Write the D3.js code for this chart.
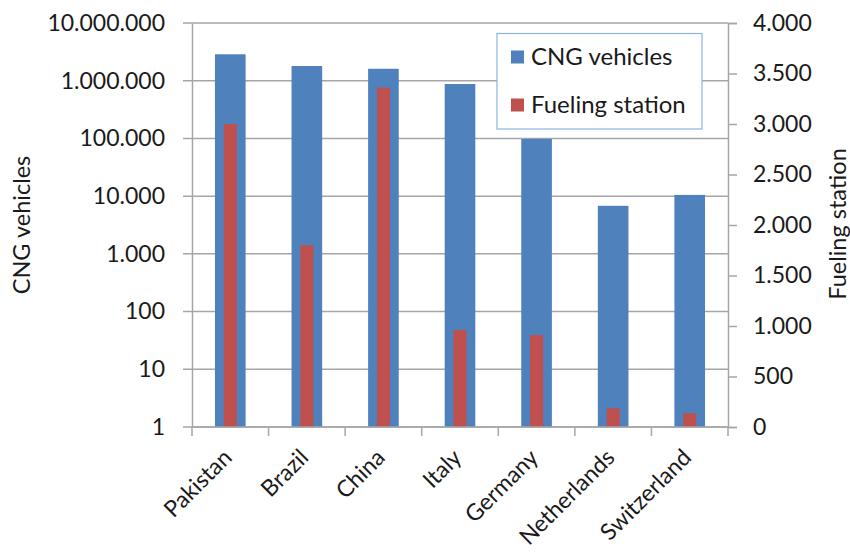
<!DOCTYPE html>
<html>
<head>
    <script src="https://d3js.org/d3.v7.min.js"></script>
    <style>
      body { margin: 0; background-color: white; }
      text { font-family: Lato, "Liberation Sans", sans-serif; fill: #1a1a1a; }
    </style>
</head>
<body>
<div id="my_dataviz"></div>
<script>

// data
var countries = ["Pakistan", "Brazil", "China", "Italy", "Germany", "Netherlands", "Switzerland"]
var cngVehicles = [2870000, 1800000, 1610000, 876000, 98000, 6800, 10500]
var fuelingStations = [3000, 1800, 3360, 960, 910, 185, 136]
var leftTicks = [1, 10, 100, 1000, 10000, 100000, 1000000, 10000000]
var rightTicks = [0, 500, 1000, 1500, 2000, 2500, 3000, 3500, 4000]
var seriesNames = ["CNG vehicles", "Fueling station"]

var W = 850, H = 559
var plot = {left: 192, right: 728, top: 23, bottom: 427}

var blue = "#4f81bd", red = "#c0504d", grid = "#a6a6a6"

// dots as thousands separator
var locale = d3.formatLocale({decimal: ",", thousands: ".", grouping: [3], currency: ["", ""]})
var fmt = locale.format(",d")

var svg = d3.select("#my_dataviz")
  .append("svg")
    .attr("width", W)
    .attr("height", H)

var x = d3.scaleBand()
    .domain(countries)
    .range([plot.left, plot.right])

var yLeft = d3.scaleLog()
    .domain([1, 10000000])
    .range([plot.bottom, plot.top])

var yRight = d3.scaleLinear()
    .domain([0, 4000])
    .range([plot.bottom, plot.top])

// horizontal gridlines (left scale)
svg.append("g")
  .selectAll("line")
  .data(leftTicks)
  .enter().append("line")
    .attr("x1", plot.left - 9)
    .attr("x2", plot.right)
    .attr("y1", function(d) { return yLeft(d) })
    .attr("y2", function(d) { return yLeft(d) })
    .attr("stroke", grid)
    .attr("stroke-width", 1.5)

// CNG vehicles bars
var bw = x.bandwidth()
svg.append("g")
  .selectAll("rect")
  .data(countries)
  .enter().append("rect")
    .attr("x", function(d) { return x(d) + bw / 2 - bw * 0.2 })
    .attr("width", bw * 0.4)
    .attr("y", function(d, i) { return yLeft(cngVehicles[i]) })
    .attr("height", function(d, i) { return yLeft(1) - yLeft(cngVehicles[i]) })
    .attr("fill", blue)

// fueling station bars
svg.append("g")
  .selectAll("rect")
  .data(countries)
  .enter().append("rect")
    .attr("x", function(d) { return x(d) + bw / 2 - bw * 0.085 })
    .attr("width", bw * 0.17)
    .attr("y", function(d, i) { return yRight(fuelingStations[i]) })
    .attr("height", function(d, i) { return yRight(0) - yRight(fuelingStations[i]) })
    .attr("fill", red)

// left axis
var gl = svg.append("g")
  .attr("transform", "translate(" + plot.left + ",0)")
  .call(d3.axisLeft(yLeft).tickValues(leftTicks).tickFormat(fmt).tickSize(0).tickPadding(27))
gl.select(".domain").attr("stroke", grid).attr("stroke-width", 1.5)
gl.selectAll("text").style("font-size", "23px")

// right axis
var gr = svg.append("g")
  .attr("transform", "translate(" + plot.right + ",0)")
  .call(d3.axisRight(yRight).tickValues(rightTicks).tickFormat(fmt).tickSize(9).tickPadding(16))
gr.select(".domain").attr("stroke", grid).attr("stroke-width", 1.5)
gr.selectAll("line").attr("stroke", grid).attr("stroke-width", 1.5)
gr.selectAll("text").style("font-size", "23px")

// bottom axis: ticks between the categories
svg.append("line")
    .attr("x1", plot.left).attr("x2", plot.right)
    .attr("y1", plot.bottom).attr("y2", plot.bottom)
    .attr("stroke", grid).attr("stroke-width", 1.5)
var bounds = countries.map(function(d) { return x(d) }).concat([plot.right])
svg.append("g")
  .selectAll("line")
  .data(bounds)
  .enter().append("line")
    .attr("x1", function(d) { return d })
    .attr("x2", function(d) { return d })
    .attr("y1", plot.bottom)
    .attr("y2", plot.bottom + 9)
    .attr("stroke", grid)
    .attr("stroke-width", 1.5)

svg.append("g")
  .selectAll("text")
  .data(countries)
  .enter().append("text")
    .attr("transform", function(d) { return "translate(" + (x(d) + bw / 2 + 3) + ",459) rotate(-45)" })
    .attr("text-anchor", "end")
    .style("font-size", "23px")
    .text(function(d) { return d })

// axis titles
svg.append("text")
    .attr("transform", "translate(30,225) rotate(-90)")
    .attr("text-anchor", "middle")
    .style("font-size", "23.5px")
    .text("CNG vehicles")

svg.append("text")
    .attr("transform", "translate(846,224) rotate(-90)")
    .attr("text-anchor", "middle")
    .style("font-size", "23.5px")
    .text("Fueling station")

// legend
var lg = svg.append("g")
lg.append("rect")
    .attr("x", 497).attr("y", 33.5)
    .attr("width", 205).attr("height", 95.5)
    .attr("fill", "white")
    .attr("stroke", "#8eb4e3")
    .attr("stroke-width", 1.2)
var legendColors = [blue, red]
seriesNames.forEach(function(name, i) {
  var cy = 57 + i * 48
  lg.append("rect")
      .attr("x", 511).attr("y", cy - 6.5)
      .attr("width", 13).attr("height", 13)
      .attr("fill", legendColors[i])
  lg.append("text")
      .attr("x", 531).attr("y", cy)
      .attr("dy", "0.35em")
      .style("font-size", "24px")
      .text(name)
})

</script>
</body>
</html>
